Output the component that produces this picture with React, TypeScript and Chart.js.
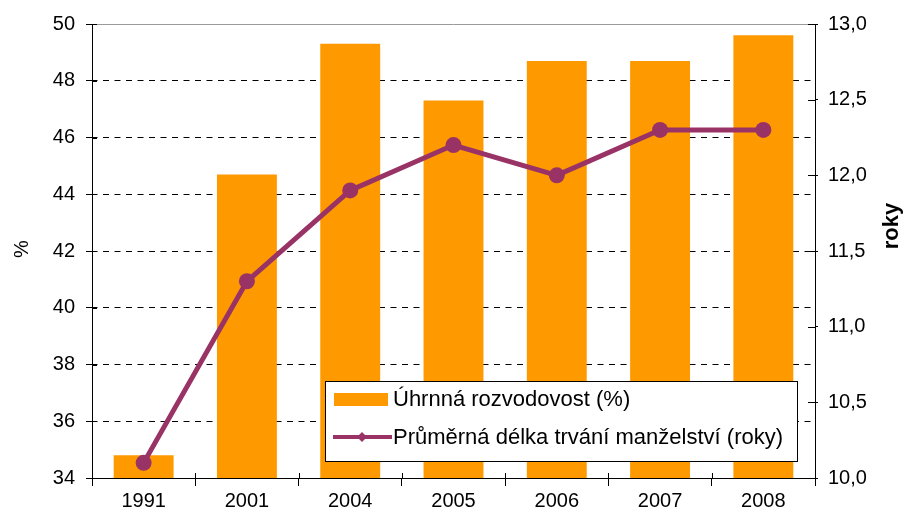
import { useEffect, useRef } from "react";
import { Chart, registerables } from "chart.js";

Chart.register(...registerables);

const categories = ["1991", "2001", "2004", "2005", "2006", "2007", "2008"];
const divorceRate = [34.8, 44.7, 49.3, 47.3, 48.7, 48.7, 49.6];
const marriageDuration = [10.1, 11.3, 11.9, 12.2, 12.0, 12.3, 12.3];
const barLabel = "Úhrnná rozvodovost (%)";
const lineLabel = "Průměrná délka trvání manželství (roky)";
const leftTitle = "%";
const rightTitle = "roky";
const leftMin = 34;
const leftMax = 50;
const leftStep = 2;
const rightMin = 10;
const rightMax = 13;
const rightStep = 0.5;

const BAR_COLOR = "#FF9900";
const LINE_COLOR = "#993366";
const FONT = "'Liberation Sans', Arial, sans-serif";

const extrasPlugin = {
  id: "extras",
  beforeDatasetsDraw(chart: any) {
    const ctx = chart.ctx as CanvasRenderingContext2D;
    const area = chart.chartArea;
    ctx.save();
    ctx.strokeStyle = "#9a9a9a";
    ctx.lineWidth = 1;
    ctx.beginPath();
    ctx.moveTo(area.left, Math.round(area.top) + 0.5);
    ctx.lineTo(area.right, Math.round(area.top) + 0.5);
    ctx.stroke();
    ctx.restore();
  },
  afterDraw(chart: any) {
    const ctx = chart.ctx as CanvasRenderingContext2D;
    const area = chart.chartArea;
    const y = chart.scales.y;
    const y1 = chart.scales.y1;
    ctx.save();
    // inner halves of tick marks
    ctx.strokeStyle = "#000";
    ctx.lineWidth = 1;
    ctx.beginPath();
    y.ticks.forEach((t: any) => {
      const py = Math.round(y.getPixelForValue(t.value)) + 0.5;
      ctx.moveTo(area.left, py);
      ctx.lineTo(area.left + 5, py);
    });
    y1.ticks.forEach((t: any) => {
      const py = Math.round(y1.getPixelForValue(t.value)) + 0.5;
      ctx.moveTo(area.right - 7, py);
      ctx.lineTo(area.right, py);
    });
    const n = categories.length;
    for (let k = 1; k < n; k++) {
      const px = Math.round(area.left + (k * (area.right - area.left)) / n) + 0.5;
      ctx.moveTo(px, area.bottom);
      ctx.lineTo(px, area.bottom - 5);
    }
    ctx.stroke();

    // axis titles
    ctx.fillStyle = "#000";
    ctx.textAlign = "center";
    ctx.textBaseline = "middle";
    ctx.save();
    ctx.translate(22, 249);
    ctx.rotate(-Math.PI / 2);
    ctx.font = `20px ${FONT}`;
    ctx.fillText(leftTitle, 0, 0);
    ctx.restore();
    ctx.save();
    ctx.translate(892, 226);
    ctx.rotate(-Math.PI / 2);
    ctx.font = `bold 22px ${FONT}`;
    ctx.fillText(rightTitle, 0, 0);
    ctx.restore();

    // legend
    const bx = 325.5, by = 381.5, bw = 472, bh = 80;
    ctx.fillStyle = "#fff";
    ctx.fillRect(bx, by, bw, bh);
    ctx.strokeStyle = "#000";
    ctx.lineWidth = 1;
    ctx.strokeRect(bx, by, bw, bh);
    ctx.fillStyle = BAR_COLOR;
    ctx.fillRect(334, 393, 54, 13);
    ctx.strokeStyle = LINE_COLOR;
    ctx.lineWidth = 4;
    ctx.beginPath();
    ctx.moveTo(333, 437);
    ctx.lineTo(392, 437);
    ctx.stroke();
    ctx.fillStyle = LINE_COLOR;
    ctx.beginPath();
    ctx.moveTo(362, 432);
    ctx.lineTo(367, 437);
    ctx.lineTo(362, 442);
    ctx.lineTo(357, 437);
    ctx.closePath();
    ctx.fill();
    ctx.fillStyle = "#000";
    ctx.textAlign = "left";
    ctx.font = `22px ${FONT}`;
    ctx.fillText(barLabel, 393, 400);
    ctx.fillText(lineLabel, 393, 438);
    ctx.restore();
  },
};

export default function App() {
  const ref = useRef<HTMLCanvasElement | null>(null);
  useEffect(() => {
    document.body.style.margin = "0";
    const canvas = ref.current;
    if (!canvas) return;
    const tickFont = { family: FONT, size: 20 };
    const chart = new Chart(canvas, {
      type: "bar",
      data: {
        labels: categories,
        datasets: [
          {
            type: "line",
            label: lineLabel,
            data: marriageDuration,
            yAxisID: "y1",
            borderColor: LINE_COLOR,
            backgroundColor: LINE_COLOR,
            borderWidth: 5,
            pointRadius: 8,
            pointBorderWidth: 0,
            pointStyle: "circle",
            tension: 0,
            order: 0,
          } as any,
          {
            type: "bar",
            label: barLabel,
            data: divorceRate,
            yAxisID: "y",
            backgroundColor: BAR_COLOR,
            borderWidth: 0,
            barPercentage: 0.58,
            categoryPercentage: 1,
            order: 1,
          },
        ],
      },
      options: {
        responsive: false,
        animation: false,
        layout: { padding: { top: 24, left: 0, right: 0, bottom: 0 } },
        plugins: { legend: { display: false }, tooltip: { enabled: false }, title: { display: false } },
        scales: {
          x: {
            grid: { offset: true, drawOnChartArea: false, tickLength: 8, color: "#000", tickColor: "#000" },
            border: { color: "#000", width: 1 },
            ticks: { font: tickFont, color: "#000", padding: 3, maxRotation: 0 },
            afterFit: (s: any) => { s.height = 44; },
          },
          y: {
            position: "left",
            min: leftMin,
            max: leftMax,
            ticks: { stepSize: leftStep, font: tickFont, color: "#000", padding: 11 },
            grid: {
              color: (c: any) => (c.tick && (c.tick.value === leftMin || c.tick.value === leftMax) ? "rgba(0,0,0,0)" : "#000"),
              tickColor: "#000",
              tickLength: 6,
              lineWidth: 1,
            },
            border: { color: "#000", width: 1, dash: [6, 5.5], dashOffset: -10 },
            afterFit: (s: any) => { s.width = 92; },
          },
          y1: {
            position: "right",
            min: rightMin,
            max: rightMax,
            ticks: {
              stepSize: rightStep,
              font: tickFont,
              color: "#000",
              padding: 10,
              callback: (v: any) => Number(v).toFixed(1).replace(".", ","),
            },
            grid: { drawOnChartArea: false, tickColor: "#000", tickLength: 3 },
            border: { color: "#000", width: 1 },
            afterFit: (s: any) => { s.width = 93; },
          },
        },
      } as any,
      plugins: [extrasPlugin],
    });
    return () => chart.destroy();
  }, []);
  return (
    <div style={{ width: 908, height: 522, background: "#fff" }}>
      <canvas ref={ref} width={908} height={522} />
    </div>
  );
}
